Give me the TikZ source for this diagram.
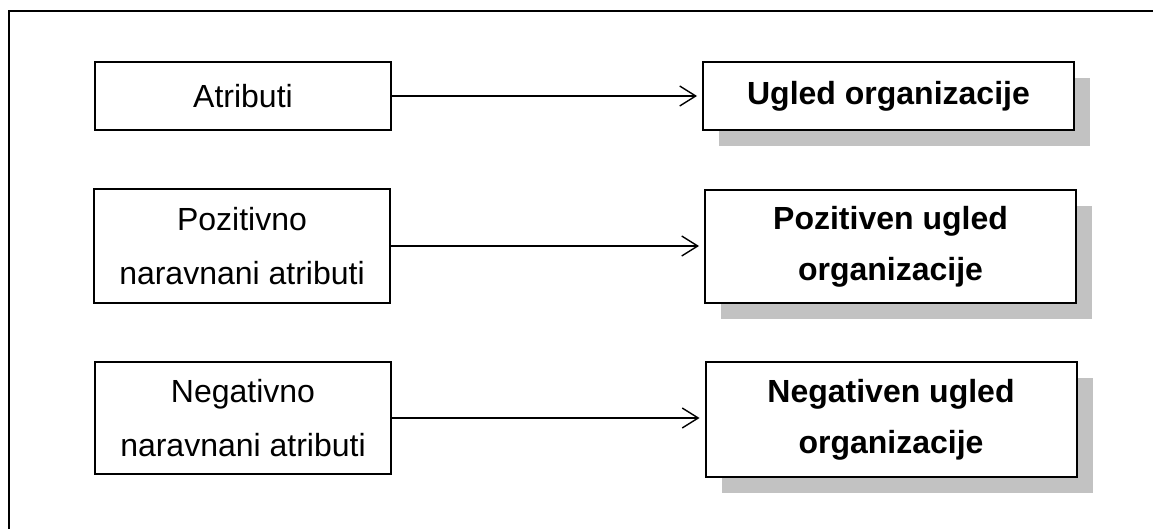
\documentclass[tikz,border=0pt]{standalone}
\usepackage{fontspec}
\setmainfont{Liberation Sans}
\usetikzlibrary{arrows.meta,shadows}
\begin{document}
\begin{tikzpicture}[x=1pt,y=-1pt,
  srcbox/.style={draw=black, line width=1.6pt, fill=white, inner sep=0pt,
    minimum width=296pt, align=center, font=\fontsize{32}{54}\selectfont},
  resbox/.style={draw=black, line width=2pt, fill=white, inner sep=0pt,
    minimum width=371pt, align=center, font=\fontsize{32}{51}\selectfont\bfseries,
    drop shadow={shadow xshift=16pt, shadow yshift=-16pt, fill=black!24, opacity=1}},
  link/.style={line width=1.4pt, -{Straight Barb[length=16pt,width=20pt,line width=1.4pt]},
    shorten >=5pt}]
  \useasboundingbox (0,0) rectangle (1153,529);
  \begin{scope}
    \clip (0,0) rectangle (1153,529);
    % outer frame, open to the right and bottom
    \draw[line width=2pt] (9,540) -- (9,11) -- (1165,11);
  \end{scope}

  % left column: attributes
  \node[srcbox, minimum height=68pt]  (a1) at (243,96)  {Atributi};
  \node[srcbox, minimum height=114pt] (a2) at (242,246) {Pozitivno\\naravnani atributi};
  \node[srcbox, minimum height=112pt] (a3) at (243,418) {Negativno\\naravnani atributi};

  % right column: reputation
  \node[resbox, minimum height=68pt]  (u1) at (888.5,96)  {Ugled organizacije};
  \node[resbox, minimum height=113pt] (u2) at (890.5,246.5) {Pozitiven ugled\\organizacije};
  \node[resbox, minimum height=115pt] (u3) at (891,419.5) {Negativen ugled\\organizacije};

  % connectors
  \draw[link] (a1.east) -- (a1.east -| u1.west);
  \draw[link] (a2.east) -- (a2.east -| u2.west);
  \draw[link] (a3.east) -- (a3.east -| u3.west);
\end{tikzpicture}
\end{document}
